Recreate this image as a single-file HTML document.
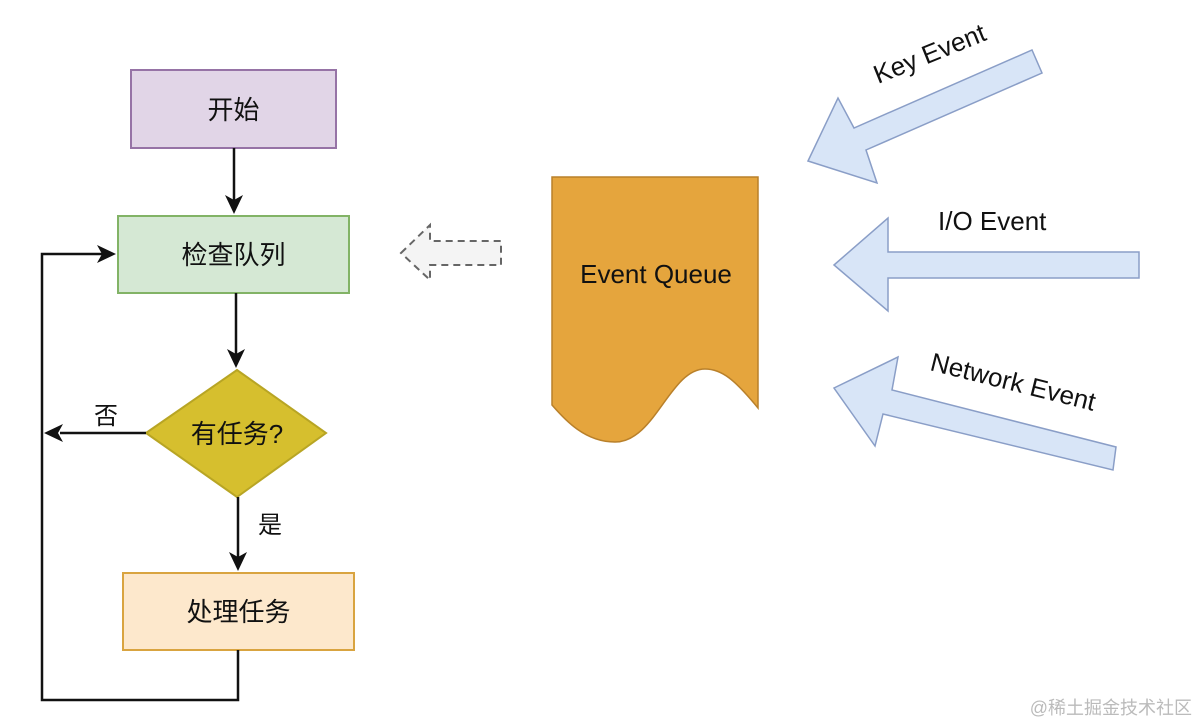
<!DOCTYPE html>
<html><head><meta charset="utf-8"><style>
html,body{margin:0;padding:0;background:#fff;width:1200px;height:723px;overflow:hidden}
svg{display:block}
text{font-family:"Liberation Sans","Noto Sans CJK SC",sans-serif;fill:#111}
</style></head><body>
<svg width="1200" height="723" viewBox="0 0 1200 723" xmlns="http://www.w3.org/2000/svg">
<defs>
<marker id="ah" markerWidth="10" markerHeight="10" refX="9" refY="5" orient="auto" markerUnits="userSpaceOnUse" viewBox="0 0 10 10">
</marker>
</defs>
<!-- boxes -->
<rect x="131" y="70" width="205" height="78" fill="#e1d5e7" stroke="#9673a6" stroke-width="2"/>
<text x="233.5" y="119" font-size="26" text-anchor="middle">开始</text>
<rect x="118" y="216" width="231" height="77" fill="#d5e8d4" stroke="#82b366" stroke-width="2"/>
<text x="233.5" y="264" font-size="26" text-anchor="middle">检查队列</text>
<polygon points="146,433 237,370 326,433 237,497" fill="#d6bf2e" stroke="#b8a524" stroke-width="2"/>
<text x="237" y="443" font-size="26" text-anchor="middle">有任务?</text>
<rect x="123" y="573" width="231" height="77" fill="#fde8cc" stroke="#d9a440" stroke-width="2"/>
<text x="238.5" y="621" font-size="26" text-anchor="middle">处理任务</text>
<!-- connectors -->
<g stroke="#111" stroke-width="2.5" fill="none">
<line x1="234" y1="148" x2="234" y2="200"/>
<line x1="236" y1="293" x2="236" y2="354"/>
<line x1="238" y1="497" x2="238" y2="557"/>
<line x1="146" y1="433" x2="60" y2="433"/>
<polyline points="238,650 238,700 42,700 42,254 102,254"/>
</g>
<g fill="#111">
<polygon points="234,214 225,195 234,200 243,195"/>
<polygon points="236,368 227,349 236,354 245,349"/>
<polygon points="238,571 229,552 238,557 247,552"/>
<polygon points="44,433 63,424 58,433 63,442"/>
<polygon points="116,254 97,245 102,254 97,263"/>
</g>
<text x="94" y="424" font-size="24">否</text>
<text x="258" y="533" font-size="24">是</text>
<!-- dashed arrow -->
<polygon points="401,253 430,225 430,241 501,241 501,265 430,265 430,280" fill="#f4f4f4" stroke="#666" stroke-width="2" stroke-dasharray="7,5"/>
<!-- event queue -->
<path d="M552,177 L758,177 L758,408 C735,380 722,369 705,369 C670,369 655,442 615,442 C585,442 565,420 552,405 Z" fill="#e5a53d" stroke="#b9802a" stroke-width="1.5"/>
<text x="656" y="283" font-size="26" text-anchor="middle">Event Queue</text>
<!-- event arrows -->
<g fill="#d8e5f7" stroke="#8a9ec7" stroke-width="1.5">
<polygon points="808,161 838,98 854,128 1032,50 1042,73 866,150 877,183"/>
<polygon points="834,265 888,218 888,252 1139,252 1139,278 888,278 888,311"/>
<polygon points="834,388 898,357 892,390 1116,447 1113,470 883,414 875,446"/>
</g>
<text font-size="26" transform="translate(878,84) rotate(-22)">Key Event</text>
<text x="938" y="230" font-size="26">I/O Event</text>
<text font-size="26" transform="translate(929,370) rotate(14)">Network Event</text>
<text x="1192" y="714" font-size="18" text-anchor="end" style="fill:#bbb">@稀土掘金技术社区</text>
</svg>
</body></html>
